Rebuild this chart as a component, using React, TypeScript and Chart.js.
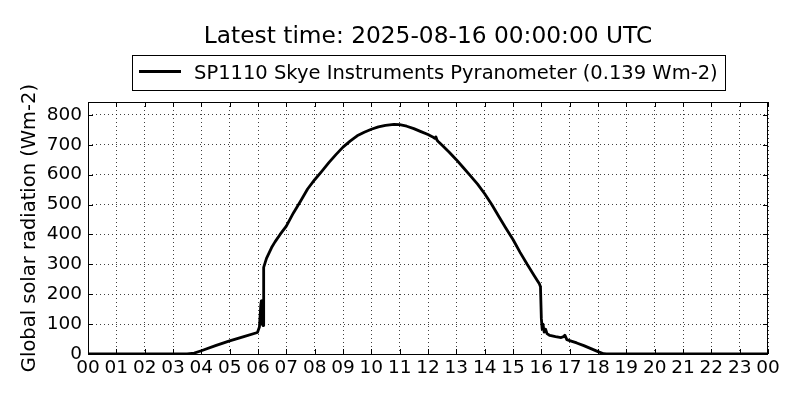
import React, { useEffect, useRef } from "react";
import { Chart, registerables } from "chart.js";

Chart.register(...registerables);

const TITLE = "Latest time: 2025-08-16 00:00:00 UTC";
const SERIES_LABEL = "SP1110 Skye Instruments Pyranometer (0.139 Wm-2)";
const Y_TITLE = "Global solar radiation (Wm-2)";

const X_MIN = 0;
const X_MAX = 24;
const Y_MIN = 0;
const Y_MAX = 843;

const xTickLabels = [
  "00", "01", "02", "03", "04", "05", "06", "07", "08", "09", "10", "11", "12",
  "13", "14", "15", "16", "17", "18", "19", "20", "21", "22", "23", "00",
];

// hours of day (UTC)
const hours = [
  0, 3.5, 3.75, 4.0, 4.5, 5.0, 5.5, 5.98, 6.05, 6.1, 6.12, 6.14, 6.16, 6.18,
  6.2, 6.25, 6.3, 6.48, 6.6, 6.78, 7.0, 7.25, 7.5, 7.75, 8.0, 8.25, 8.5, 8.75,
  9.0, 9.25, 9.5, 9.75, 10.0, 10.25, 10.5, 10.8, 11.0, 11.25, 11.5, 11.75,
  12.0, 12.15, 12.25, 12.28, 12.32, 12.36, 12.5, 12.75, 13.0, 13.25, 13.5, 13.75,
  14.0, 14.25, 14.5, 14.75, 15.0, 15.25, 15.5, 15.75, 15.93, 15.97, 16.0,
  16.03, 16.06, 16.1, 16.15, 16.2, 16.3, 16.5, 16.7, 16.78, 16.83, 16.9,
  17.0, 17.25, 17.5, 17.75, 18.0, 18.2, 18.3, 24,
];

// global solar radiation (Wm-2)
const radiation = [
  0, 0, 3, 11, 28, 44, 58, 72, 90, 165, 178, 100, 150, 95,
  290, 305, 320, 356, 375, 400, 428, 472, 511, 552, 583, 611, 640, 667,
  692, 712, 730, 742, 752, 760, 765, 768, 767, 762, 754, 744,
  734, 727, 721, 726, 715, 711, 698, 675, 650, 623, 596, 568,
  536, 500, 460, 421, 383, 340, 300, 262, 235, 225, 120,
  83, 100, 73, 83, 68, 62, 58, 55, 58, 63, 48,
  45, 37, 28, 18, 8, 1, 0, 0,
];

const FONT = "'DejaVu Sans', sans-serif";

const decorPlugin = {
  id: "decor",
  afterDraw(chart: any) {
    const ctx = chart.ctx as CanvasRenderingContext2D;
    const area = chart.chartArea;
    const xs = chart.scales.x;
    const ys = chart.scales.y;
    ctx.save();

    // frame
    ctx.strokeStyle = "#000";
    ctx.lineWidth = 1;
    ctx.strokeRect(
      Math.round(area.left) + 0.5,
      Math.round(area.top) + 0.5,
      Math.round(area.right - area.left) - 1,
      Math.round(area.bottom - area.top)
    );

    // inward ticks
    const tl = 5;
    ctx.beginPath();
    xs.ticks.forEach((t: any) => {
      const px = Math.round(xs.getPixelForValue(t.value)) + 0.5;
      ctx.moveTo(px, area.bottom);
      ctx.lineTo(px, area.bottom - tl);
      ctx.moveTo(px, area.top);
      ctx.lineTo(px, area.top + tl);
    });
    ys.ticks.forEach((t: any) => {
      const py = Math.round(ys.getPixelForValue(t.value)) + 0.5;
      ctx.moveTo(area.left, py);
      ctx.lineTo(area.left + tl, py);
      ctx.moveTo(area.right, py);
      ctx.lineTo(area.right - tl, py);
    });
    ctx.stroke();

    const cx = (area.left + area.right) / 2;

    // title
    ctx.fillStyle = "#000";
    ctx.font = `23.3px ${FONT}`;
    ctx.textAlign = "center";
    ctx.textBaseline = "alphabetic";
    ctx.fillText(TITLE, cx, 42.5);

    // legend
    ctx.font = `19.5px ${FONT}`;
    const tw = ctx.measureText(SERIES_LABEL).width;
    const padL = 7, lineLen = 42, gap = 13, padR = 7;
    const bw = padL + lineLen + gap + tw + padR;
    const bx = Math.round(cx - bw / 2);
    const by = 55;
    const bh = 35;
    ctx.lineWidth = 1;
    ctx.strokeRect(bx + 0.5, by + 0.5, Math.round(bw), bh);
    ctx.lineWidth = 2.8;
    ctx.beginPath();
    ctx.moveTo(bx + padL, by + 16.5);
    ctx.lineTo(bx + padL + lineLen, by + 16.5);
    ctx.stroke();
    ctx.textAlign = "left";
    ctx.fillText(SERIES_LABEL, bx + padL + lineLen + gap, by + 23.5);

    // y axis title
    ctx.save();
    ctx.translate(29.5, (area.top + area.bottom) / 2);
    ctx.rotate(-Math.PI / 2);
    ctx.font = `19.5px ${FONT}`;
    ctx.textAlign = "center";
    ctx.textBaseline = "middle";
    ctx.fillText(Y_TITLE, 0, 0);
    ctx.restore();

    ctx.restore();
  },
};

export default function App() {
  const ref = useRef<HTMLCanvasElement | null>(null);

  useEffect(() => {
    if (!ref.current) return;
    const points = hours.map((h, i) => ({ x: h, y: radiation[i] }));
    const chart = new Chart(ref.current, {
      type: "line",
      data: {
        datasets: [
          {
            label: SERIES_LABEL,
            data: points,
            borderColor: "#000",
            backgroundColor: "#000",
            borderWidth: 2.8,
            borderJoinStyle: "round",
            borderCapStyle: "round",
            pointRadius: 0,
            tension: 0,
            fill: false,
          },
        ],
      },
      options: {
        animation: false,
        responsive: false,
        devicePixelRatio: 1,
        layout: { padding: { top: 102, right: 32, left: 0, bottom: 0 } },
        plugins: {
          legend: { display: false },
          title: { display: false },
          tooltip: { enabled: false },
        },
        scales: {
          x: {
            type: "linear",
            min: X_MIN,
            max: X_MAX,
            afterFit: (s: any) => {
              s.height = 46;
            },
            ticks: {
              stepSize: 1,
              autoSkip: false,
              maxRotation: 0,
              minRotation: 0,
              padding: 3,
              color: "#000",
              font: { family: FONT, size: 18.5 },
              callback: (_v: any, i: number) => xTickLabels[i],
            },
            grid: {
              color: "rgba(0,0,0,0.75)",
              lineWidth: 1,
              drawTicks: false,
              tickLength: 0,
            },
            border: { display: false, dash: [1, 3] },
          },
          y: {
            type: "linear",
            min: Y_MIN,
            max: Y_MAX,
            afterFit: (s: any) => {
              s.width = 88;
            },
            ticks: {
              stepSize: 100,
              includeBounds: false,
              padding: 6,
              color: "#000",
              font: { family: FONT, size: 18.5 },
              callback: (v: any) => String(v),
            },
            grid: {
              color: "rgba(0,0,0,0.75)",
              lineWidth: 1,
              drawTicks: false,
              tickLength: 0,
            },
            border: { display: false, dash: [1, 3] },
          },
        },
      },
      plugins: [decorPlugin],
    });
    return () => chart.destroy();
  }, []);

  return (
    <div style={{ position: "absolute", left: 0, top: 0, width: 800, height: 400, background: "#fff" }}>
      <canvas ref={ref} width={800} height={400} style={{ display: "block", width: 800, height: 400 }} />
    </div>
  );
}
